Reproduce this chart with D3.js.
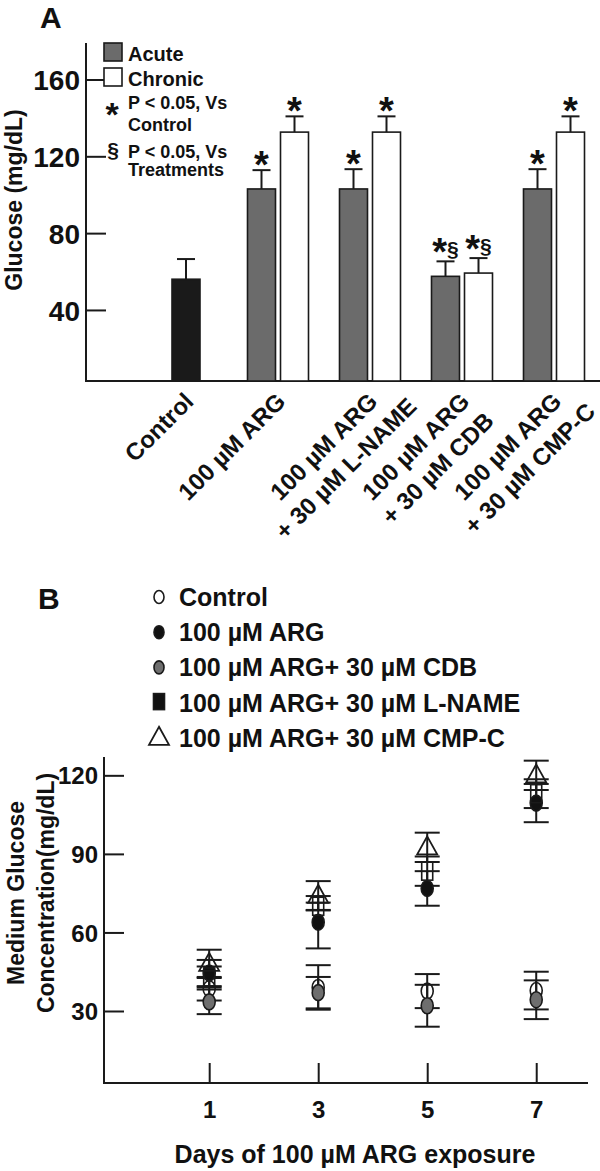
<!DOCTYPE html>
<html>
<head>
<meta charset="utf-8">
<script src="https://cdn.jsdelivr.net/npm/d3@7"></script>
<style>
  body { margin: 0; background: #fff; }
  text { font-family: "Liberation Sans", Arial, sans-serif; font-weight: bold; fill: #111; }
</style>
</head>
<body>
<div id="chart"></div>
<script>
// ---- panel A data ----
const groupsA = ["Control", "ARG", "ARG+L-NAME", "ARG+CDB", "ARG+CMP-C"];
const groupLabelsA = [["Control"], ["100 µM ARG"], ["100 µM ARG", "+ 30 µM L-NAME"],
                      ["100 µM ARG", "+ 30 µM CDB"], ["100 µM ARG", "+ 30 µM CMP-C"]];
const acuteA = [56, 103, 103, 57.5, 103];
const acuteErrA = [10.5, 9.8, 10.3, 7.8, 10.3];
const chronicA = [null, 132.6, 132.6, 59.2, 132.6];
const chronicErrA = [null, 8.2, 8.2, 7.8, 8.2];
const marksAcuteA = ["", "*", "*", "*§", "*"];
const marksChronicA = ["", "*", "*", "*§", "*"];
const yTicksA = [40, 80, 120, 160];

// ---- panel B data ----
const daysB = [1, 3, 5, 7];
const seriesB = ["Control", "100 µM ARG", "100 µM ARG+ 30 µM CDB", "100 µM ARG+ 30 µM L-NAME", "100 µM ARG+ 30 µM CMP-C"];
const controlB = [38.5, 39, 37.6, 37.8];
const controlErrB = [4.5, 8.5, 6.5, 7.2];
const argB = [44.5, 63.9, 76.8, 109.4];
const argErrB = [5, 10, 6.6, 7.3];
const cdbB = [33.5, 37, 32, 34.3];
const cdbErrB = [4.7, 6, 8, 7.4];
const lnameB = [43, 70, 83.4, 113];
const lnameErrB = [4, 1.4, 5.6, 5.5];
const cmpB = [48, 74, 92.5, 120];
const cmpErrB = [5.4, 5.6, 5.6, 5.6];
const yTicksB = [30, 60, 90, 120];

const W = 600, H = 1171, ink = "#1a1a1a";
const svg = d3.select("#chart").append("svg").attr("width", W).attr("height", H);

// ================= Panel A =================
const yA = d3.scaleLinear().domain([3, 179]).range([381, 43]);
const xA = d3.scalePoint().domain(groupsA).range([186, 554]);
const barW = 28, gap = 5;

svg.append("text").attr("x", 40).attr("y", 28).style("font-size", "30px").text("A");

// axes
svg.append("line").attr("x1", 86).attr("x2", 86).attr("y1", yA(179)).attr("y2", yA(3))
  .attr("stroke", ink).attr("stroke-width", 2);
svg.append("line").attr("x1", 85).attr("x2", W).attr("y1", yA(3)).attr("y2", yA(3))
  .attr("stroke", ink).attr("stroke-width", 2);
const gyA = svg.append("g").attr("transform", "translate(86,0)")
  .call(d3.axisRight(yA).tickValues(yTicksA).tickSize(20).tickSizeOuter(0).tickFormat(d3.format("d")));
gyA.select(".domain").remove();
gyA.selectAll(".tick line").attr("stroke", ink).attr("stroke-width", 2);
gyA.selectAll(".tick text").attr("x", -6).attr("text-anchor", "end").attr("dy", "0.36em")
  .style("font-size", "28px");

svg.append("text").attr("transform", "translate(22,200) rotate(-90)").attr("text-anchor", "middle")
  .style("font-size", "23px").text("Glucose (mg/dL)");

// bars
const barsA = [];
groupsA.forEach((g, i) => {
  const c = xA(g);
  if (chronicA[i] == null) {
    barsA.push({x: c - barW / 2, v: acuteA[i], e: acuteErrA[i], fill: "#1a1a1a", m: marksAcuteA[i]});
  } else {
    barsA.push({x: c - gap / 2 - barW, v: acuteA[i], e: acuteErrA[i], fill: "#6b6b6b", m: marksAcuteA[i]});
    barsA.push({x: c + gap / 2, v: chronicA[i], e: chronicErrA[i], fill: "#ffffff", m: marksChronicA[i]});
  }
});
const bA = svg.append("g");
bA.selectAll("line.err").data(barsA).enter().append("line")
  .attr("x1", d => d.x + barW / 2).attr("x2", d => d.x + barW / 2)
  .attr("y1", d => yA(d.v)).attr("y2", d => yA(d.v + d.e))
  .attr("stroke", ink).attr("stroke-width", 2);
bA.selectAll("line.cap").data(barsA).enter().append("line")
  .attr("x1", d => d.x + barW / 2 - 9).attr("x2", d => d.x + barW / 2 + 9)
  .attr("y1", d => yA(d.v + d.e)).attr("y2", d => yA(d.v + d.e))
  .attr("stroke", ink).attr("stroke-width", 2);
bA.selectAll("rect").data(barsA).enter().append("rect")
  .attr("x", d => d.x).attr("width", barW)
  .attr("y", d => yA(d.v)).attr("height", d => yA(3) - yA(d.v))
  .attr("fill", d => d.fill).attr("stroke", ink).attr("stroke-width", 1.6);

// significance marks
const mk = bA.selectAll("text.mk").data(barsA.filter(d => d.m)).enter().append("text")
  .attr("text-anchor", "middle")
  .attr("x", d => d.x + barW / 2).attr("y", d => yA(d.v + d.e) + (d.m.length > 1 ? 4 : 8));
mk.append("tspan").style("font-size", "38px").text("*");
mk.filter(d => d.m.length > 1).append("tspan").attr("dy", -9).style("font-size", "21px").text("§");

// category labels
groupsA.forEach((g, i) => {
  const lg = svg.append("g").attr("transform", `translate(${xA(g) + 9},${403}) rotate(-45)`);
  const t1 = lg.append("text").attr("text-anchor", "end").style("font-size", "24px").text(groupLabelsA[i][0]);
  if (groupLabelsA[i].length > 1) {
    const len = t1.node().getComputedTextLength();
    lg.append("text").attr("text-anchor", "middle").attr("x", -len / 2).attr("y", 31)
      .style("font-size", "24px").text(groupLabelsA[i][1]);
  }
});

// legend A
const legA = svg.append("g");
legA.append("rect").attr("x", 104).attr("y", 43).attr("width", 18).attr("height", 18)
  .attr("fill", "#6b6b6b").attr("stroke", ink).attr("stroke-width", 1.6);
legA.append("rect").attr("x", 104).attr("y", 68).attr("width", 18).attr("height", 18)
  .attr("fill", "#fff").attr("stroke", ink).attr("stroke-width", 1.6);
legA.append("text").attr("x", 128).attr("y", 61).style("font-size", "20px").text("Acute");
legA.append("text").attr("x", 128).attr("y", 86).style("font-size", "20px").text("Chronic");
legA.append("text").attr("x", 112).attr("y", 126).attr("text-anchor", "middle").style("font-size", "34px").text("*");
legA.append("text").attr("x", 128).attr("y", 109).style("font-size", "18px").text("P < 0.05, Vs");
legA.append("text").attr("x", 128).attr("y", 131).style("font-size", "18px").text("Control");
legA.append("text").attr("x", 113).attr("y", 157).attr("text-anchor", "middle").style("font-size", "21px").text("§");
legA.append("text").attr("x", 128).attr("y", 158).style("font-size", "18px").text("P < 0.05, Vs");
legA.append("text").attr("x", 128).attr("y", 176).style("font-size", "18px").text("Treatments");

// ================= Panel B =================
const yB = d3.scaleLinear().domain([2.5, 127]).range([1083, 757]);
const xB = d3.scaleLinear().domain([-0.93, 7.95]).range([104, 588]);

svg.append("text").attr("x", 38).attr("y", 609).style("font-size", "30px").text("B");

svg.append("line").attr("x1", xB(-0.93)).attr("x2", xB(-0.93)).attr("y1", yB(127)).attr("y2", yB(2.5))
  .attr("stroke", ink).attr("stroke-width", 2);
svg.append("line").attr("x1", xB(-0.93) - 1).attr("x2", xB(7.95)).attr("y1", yB(2.5)).attr("y2", yB(2.5))
  .attr("stroke", ink).attr("stroke-width", 2);

const gyB = svg.append("g").attr("transform", `translate(${xB(-0.93)},0)`)
  .call(d3.axisRight(yB).tickValues(yTicksB).tickSize(20).tickSizeOuter(0).tickFormat(d3.format("d")));
gyB.select(".domain").remove();
gyB.selectAll(".tick line").attr("stroke", ink).attr("stroke-width", 2);
gyB.selectAll(".tick text").attr("x", -6).attr("text-anchor", "end").attr("dy", "0.36em")
  .style("font-size", "24px");

const gxB = svg.append("g").attr("transform", `translate(0,${yB(2.5)})`)
  .call(d3.axisTop(xB).tickValues(daysB).tickSize(20).tickSizeOuter(0).tickFormat(d3.format("d")));
gxB.select(".domain").remove();
gxB.selectAll(".tick line").attr("stroke", ink).attr("stroke-width", 2);
gxB.selectAll(".tick text").attr("y", 35).attr("dy", 0).style("font-size", "24px");

svg.append("text").attr("x", 355).attr("y", 1163).attr("text-anchor", "middle")
  .style("font-size", "25px").text("Days of 100 µM ARG exposure");

const yl = svg.append("text").attr("transform", "translate(24,893) rotate(-90)").attr("text-anchor", "middle")
  .style("font-size", "23px");
yl.append("tspan").attr("x", 0).attr("y", 0).text("Medium Glucose");
yl.append("tspan").attr("x", 0).attr("y", 30).text("Concentration(mg/dL)");

// symbols
const tri = "M0,-11L10,7L-10,7Z";
const styleB = [
  {vals: controlB, errs: controlErrB, shape: "ellipse", fill: "none"},
  {vals: argB, errs: argErrB, shape: "ellipse", fill: "#111"},
  {vals: cdbB, errs: cdbErrB, shape: "ellipse", fill: "#6e6e6e"},
  {vals: lnameB, errs: lnameErrB, shape: "rect", fill: "none", legendFill: "#111"},
  {vals: cmpB, errs: cmpErrB, shape: "tri", fill: "none"}
];

const pts = [];
styleB.forEach((s, si) => daysB.forEach((d, di) => pts.push({s: si, day: d, v: s.vals[di], e: s.errs[di]})));

const gB = svg.append("g");
gB.selectAll("line.ev").data(pts).enter().append("line")
  .attr("x1", d => xB(d.day)).attr("x2", d => xB(d.day))
  .attr("y1", d => yB(d.v - d.e)).attr("y2", d => yB(d.v + d.e))
  .attr("stroke", ink).attr("stroke-width", 2);
[-1, 1].forEach(sg => {
  gB.selectAll("line.c" + sg).data(pts).enter().append("line")
    .attr("x1", d => xB(d.day) - 12.5).attr("x2", d => xB(d.day) + 12.5)
    .attr("y1", d => yB(d.v + sg * d.e)).attr("y2", d => yB(d.v + sg * d.e))
    .attr("stroke", ink).attr("stroke-width", 2);
});

function drawSymbol(g, s, x, y, legend) {
  const fill = legend && s.legendFill ? s.legendFill : s.fill;
  if (s.shape === "ellipse") {
    g.append("ellipse").attr("cx", x).attr("cy", y).attr("rx", legend ? 5 : 6).attr("ry", legend ? 6.5 : 8)
      .attr("fill", fill).attr("stroke", ink).attr("stroke-width", 1.6);
  } else if (s.shape === "rect") {
    g.append("rect").attr("x", x - 5.5).attr("y", y - 9).attr("width", 11).attr("height", legend ? 16 : 18)
      .attr("fill", fill).attr("stroke", ink).attr("stroke-width", 1.6);
  } else {
    g.append("path").attr("d", tri).attr("transform", `translate(${x},${y})`)
      .attr("fill", fill).attr("stroke", ink).attr("stroke-width", 1.8);
  }
}
pts.forEach(p => drawSymbol(gB, styleB[p.s], xB(p.day), yB(p.v), false));

// legend B
const legB = svg.append("g");
seriesB.forEach((name, i) => {
  const yb = 606 + i * 35.2;
  drawSymbol(legB, styleB[i], 159, yb - 9, true);
  legB.append("text").attr("x", 179).attr("y", yb).style("font-size", "25px").text(name);
});
</script>
</body>
</html>
